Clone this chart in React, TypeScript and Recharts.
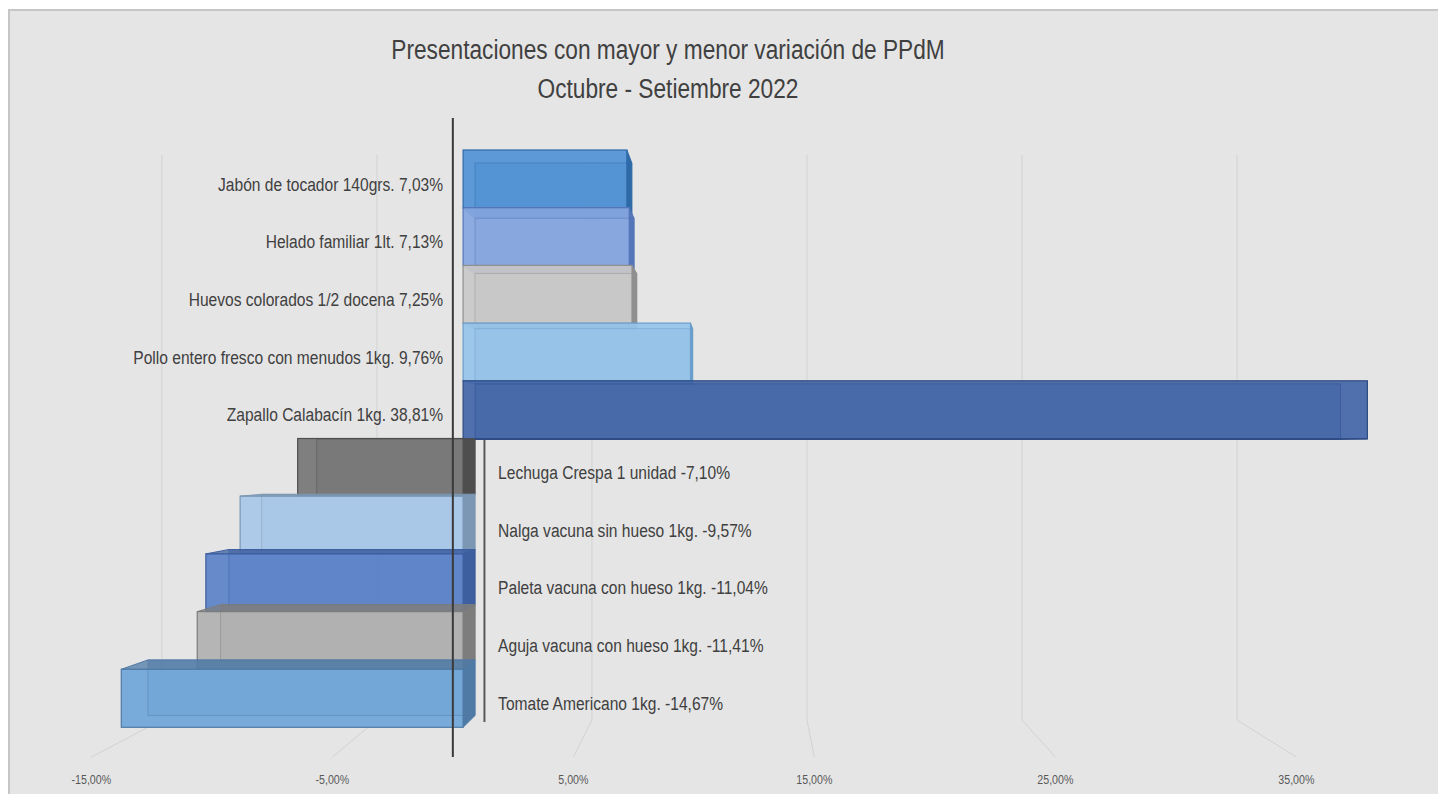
import React from 'react';
import { BarChart, Bar, XAxis, YAxis, CartesianGrid, ReferenceLine, LabelList } from 'recharts';

// ---------- data ----------
const categories = [
  'Jabón de tocador 140grs.',
  'Helado familiar 1lt.',
  'Huevos colorados 1/2 docena',
  'Pollo entero fresco con menudos 1kg.',
  'Zapallo Calabacín 1kg.',
  'Lechuga Crespa 1 unidad',
  'Nalga vacuna sin hueso 1kg.',
  'Paleta vacuna con hueso 1kg.',
  'Aguja vacuna con hueso 1kg.',
  'Tomate Americano 1kg.',
];
const variation = [7.03, 7.13, 7.25, 9.76, 38.81, -7.1, -9.57, -11.04, -11.41, -14.67];
const tickValues = [-15, -5, 5, 15, 25, 35];
const gridValues = [-15, -5, 0, 5, 15, 25, 35];
const titleLines = ['Presentaciones con mayor y menor variación de PPdM', 'Octubre - Setiembre 2022'];

// ---------- styles ----------
const FRONT = ['#5093d5', '#85a6e0', '#c9c9c9', '#96c3ea', '#4366a8', '#767676', '#a8c8e8', '#5c82c9', '#b1b1b1', '#6fa6d9'];
const DARK = ['#2f6aa8', '#5476b8', '#8f8f8f', '#6a9dcc', '#2c4a82', '#4e4e4e', '#7b97b4', '#3d5f9f', '#7d7d7d', '#4f7aa6'];
const FONT = '"Liberation Sans", Arial, sans-serif';
const NARROW = 0.82;
const TEXT = '#404040';

const CHART_W = 1428;
const CHART_H = 783;
const FLOOR_AXIS_H = 30;
const MARGIN = { top: 139, right: 38, bottom: 37, left: 50 };
const PLOT_BOTTOM = CHART_H - MARGIN.bottom - FLOOR_AXIS_H;
const BAR_DOMAIN: [number, number] = [-17.3, 40.21];
const FLOOR_DOMAIN: [number, number] = [-16.3, 39.3];
const BACK_DOMAIN: [number, number] = [-19.74, 42.58];
const VP = { x: 731, y: 441 };
const DEPTH = 0.957;

const fmt = (v: number) => `${v.toFixed(2).replace('.', ',')}%`;

const data = categories.map((name, i) => ({
  name,
  value: variation[i],
  label: `${name} ${fmt(variation[i])}`,
}));

const pt = (px: number, py: number) => [VP.x + DEPTH * (px - VP.x), VP.y + DEPTH * (py - VP.y)];
const poly = (pts: number[][]) => pts.map((p) => p.join(',')).join(' ');

const Bar3D = (props: any) => {
  const { x, y, width, height, index } = props;
  const x1 = Math.min(x, x + width);
  const x2 = Math.max(x, x + width);
  const y1 = Math.min(y, y + height);
  const y2 = Math.max(y, y + height);
  const [bx1, by1] = pt(x1, y1);
  const [bx2, by2] = pt(x2, y2);
  const c = FRONT[index];
  const d = DARK[index];
  const faces: React.ReactNode[] = [];
  if (y1 > VP.y)
    faces.push(<polygon key="t" points={poly([[x1, y1], [x2, y1], [bx2, by1], [bx1, by1]])} fill={d} fillOpacity={0.75} stroke={d} strokeWidth={1} />);
  if (y2 < VP.y)
    faces.push(<polygon key="b" points={poly([[x1, y2], [x2, y2], [bx2, by2], [bx1, by2]])} fill={d} fillOpacity={0.75} stroke={d} strokeWidth={1} />);
  if (x2 < VP.x)
    faces.push(<polygon key="r" points={poly([[x2, y1], [bx2, by1], [bx2, by2], [x2, y2]])} fill={d} stroke={d} strokeWidth={1} />);
  if (x1 > VP.x)
    faces.push(<polygon key="l" points={poly([[x1, y1], [bx1, by1], [bx1, by2], [x1, y2]])} fill={d} stroke={d} strokeWidth={1} />);
  return (
    <g>
      <rect x={bx1} y={by1} width={bx2 - bx1} height={by2 - by1} fill={d} fillOpacity={0.5} />
      {faces}
      <rect x={x1} y={y1} width={x2 - x1} height={y2 - y1} fill={c} fillOpacity={0.92} stroke={d} strokeWidth={1.2} />
      <rect x={bx1} y={by1} width={bx2 - bx1} height={by2 - by1} fill="none" stroke={d} strokeOpacity={0.45} strokeWidth={1} />
    </g>
  );
};

const renderLabel = (props: any) => {
  const { x, y, width, height, index } = props;
  const v = variation[index];
  const zero = v >= 0 ? Math.min(x, x + width) : Math.max(x, x + width);
  const tx = v >= 0 ? zero - 20 : zero + 35;
  const ty = y + height / 2 + 5;
  return (
    <text
      transform={`translate(${tx},${ty}) scale(${NARROW},1)`}
      x={0}
      y={0}
      textAnchor={v >= 0 ? 'end' : 'start'}
      dominantBaseline="central"
      fontFamily={FONT}
      fontSize={19}
      fill={TEXT}
    >
      {data[index].label}
    </text>
  );
};

const plotW = CHART_W - MARGIN.left - MARGIN.right;

const gridLine = (props: any) => {
  const { x1, y1, y2 } = props;
  const k = props.key ?? `g${props.index}`;
  const frac = (x1 - MARGIN.left) / plotW;
  if (frac < 0.01 || frac > 0.99) return <g key={k} />;
  const v = BACK_DOMAIN[0] + frac * (BACK_DOMAIN[1] - BACK_DOMAIN[0]);
  if (Math.abs(v) < 0.05) {
    return <line key={k} x1={x1} x2={x1} y1={y1 + 290} y2={y2 - 5} stroke="#595959" strokeWidth={2} />;
  }
  const ffrac = (v - FLOOR_DOMAIN[0]) / (FLOOR_DOMAIN[1] - FLOOR_DOMAIN[0]);
  const fx = MARGIN.left + ffrac * plotW;
  return (
    <path
      key={k}
      d={`M${x1},${y1 + 5} L${x1},${y2 - 7} L${fx},${y2 + 30}`}
      fill="none"
      stroke="#d2d2d2"
      strokeWidth={1}
    />
  );
};

const renderTick = (props: any) => {
  const { x, payload } = props;
  return (
    <text
      transform={`translate(${x},${PLOT_BOTTOM + 53}) scale(${NARROW},1)`}
      x={0}
      y={0}
      textAnchor="middle"
      dominantBaseline="central"
      fontFamily={FONT}
      fontSize={13}
      fill="#595959"
    >
      {fmt(payload.value)}
    </text>
  );
};

const zeroLine = (props: any) => {
  const { x1, y1, y2 } = props;
  return <line x1={x1} x2={x1} y1={Math.min(y1, y2) - 32} y2={Math.max(y1, y2) + 30} stroke="#3a3a3a" strokeWidth={2} />;
};

export default function App() {
  return (
    <div
      style={{
        position: 'absolute',
        left: 8,
        top: 9,
        width: CHART_W + 2,
        height: CHART_H + 2,
        background: '#e5e5e5',
        borderTop: '2px solid #c6c6c6',
        borderLeft: '2px solid #c6c6c6',
        boxSizing: 'border-box',
      }}
    >
      <div
        style={{
          position: 'absolute',
          left: 0,
          top: 20,
          width: 1316,
          textAlign: 'center',
          fontFamily: FONT,
          fontSize: 27,
          lineHeight: '39px',
          color: TEXT,
          transform: 'scaleX(0.84)',
          transformOrigin: '658px 0',
        }}
      >
        {titleLines.map((t) => (
          <div key={t}>{t}</div>
        ))}
      </div>
      <BarChart
        width={CHART_W}
        height={CHART_H}
        data={data}
        layout="vertical"
        margin={MARGIN}
        barCategoryGap={0}
        barGap={0}
      >
        <XAxis xAxisId="bars" type="number" domain={BAR_DOMAIN} allowDataOverflow hide />
        <XAxis xAxisId="back" type="number" domain={BACK_DOMAIN} ticks={gridValues} allowDataOverflow hide />
        <XAxis
          xAxisId="floor"
          type="number"
          domain={FLOOR_DOMAIN}
          ticks={tickValues}
          allowDataOverflow
          axisLine={false}
          tickLine={false}
          tick={renderTick}
          height={FLOOR_AXIS_H}
          interval={0}
        />
        <YAxis type="category" dataKey="name" hide />
        <CartesianGrid xAxisId="back" horizontal={false} vertical={gridLine} />
        <Bar xAxisId="bars" dataKey="value" shape={Bar3D} isAnimationActive={false}>
          <LabelList dataKey="label" content={renderLabel} />
        </Bar>
        <ReferenceLine xAxisId="floor" x={0} shape={zeroLine} ifOverflow="visible" />
      </BarChart>
    </div>
  );
}
